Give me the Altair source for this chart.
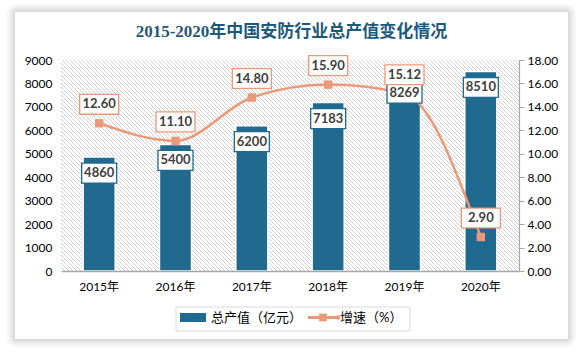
import altair as alt
import pandas as pd

years = ["2015年", "2016年", "2017年", "2018年", "2019年", "2020年"]
output_value = [4860, 5400, 6200, 7183, 8269, 8510]
growth = [12.60, 11.10, 14.80, 15.90, 15.12, 2.90]
output_labels = ["4860", "5400", "6200", "7183", "8269", "8510"]
growth_labels = ["12.60", "11.10", "14.80", "15.90", "15.12", "2.90"]

title_text = "2015-2020年中国安防行业总产值变化情况"
legend_bar = "总产值（亿元）"
legend_line = "增速（%）"

df = pd.DataFrame({
    "year": years,
    "value": output_value,
    "growth": growth,
    "vlabel": output_labels,
    "glabel": growth_labels,
})

W, H = 458, 211
BAR = "#1f6a8e"
LINE = "#ea9a78"
TXT = "#404040"
FONT = "Lato, Noto Sans CJK SC"

x_enc = alt.X("year:N", sort=years, title=None,
              scale=alt.Scale(paddingInner=0.58, paddingOuter=0.29),
              axis=alt.Axis(labelAngle=0, ticks=False, domainColor="#a6a6a6",
                            domainWidth=1.5, labelFontSize=12, labelColor="#000000",
                            labelFont=FONT, labelPadding=10, zindex=2))
x_plain = alt.X("year:N", sort=years)

yl_scale = alt.Scale(domain=[0, 9000], nice=False)
yr_scale = alt.Scale(domain=[0, 18], nice=False)

base = alt.Chart(df)
one = alt.Chart(pd.DataFrame({"k": [0]}))

# decorative diagonal hatch of the plot background (pixel space)
hatch_start = list(range(-H, W + 1, 4))
hatch_df = pd.DataFrame({
    "hx1": hatch_start,
    "hx2": [s + H for s in hatch_start],
    "hy1": [0] * len(hatch_start),
    "hy2": [H] * len(hatch_start),
})
hatch = alt.Chart(hatch_df).mark_rule(clip=True, color="#d2d2d2", strokeWidth=1).encode(
    x=alt.X("hx1:Q", scale=None, axis=None), x2="hx2:Q",
    y=alt.Y("hy1:Q", scale=None, axis=None), y2="hy2:Q")

# card shadow + card
CX0, CX1, CY0, CY1 = -46, 507, -48, 279
shadows = [
    one.mark_rect(fill=None, stroke="#000000", strokeWidth=sw, strokeOpacity=0.035, cornerRadius=2)
    .encode(x=alt.value(CX0), x2=alt.value(CX1), y=alt.value(CY0), y2=alt.value(CY1))
    for sw in [16, 11, 7, 4]
]
card = one.mark_rect(fill="#ffffff").encode(
    x=alt.value(CX0), x2=alt.value(CX1), y=alt.value(CY0), y2=alt.value(CY1))

bars = base.mark_bar(color=BAR, stroke="#ffffff", strokeWidth=1.5).encode(
    x=x_enc,
    y=alt.Y("value:Q", scale=yl_scale, title=None,
            axis=alt.Axis(orient="left", values=list(range(0, 9001, 1000)), format="d",
                          grid=False, ticks=False, domain=False, labelFontSize=12,
                          labelColor="#000000", labelFont=FONT, labelPadding=9, zindex=2)),
)
box_path = "M-1,-0.57 H1 V0.57 H-1 Z"
bar_boxes = base.mark_point(shape=box_path, filled=True, fill="#ffffff", stroke=BAR,
                            strokeWidth=1.3, opacity=1, size=35 * 35, yOffset=16).encode(
    x=x_plain, y=alt.Y("value:Q", scale=yl_scale, axis=None))
bar_text = base.mark_text(font=FONT, fontSize=13, fontWeight="bold", color=TXT,
                          yOffset=16, baseline="middle").encode(
    x=x_plain, y=alt.Y("value:Q", scale=yl_scale, axis=None),
    text="vlabel:N")

line = base.mark_line(color=LINE, strokeWidth=2.5, interpolate="monotone").encode(
    x=x_plain,
    y=alt.Y("growth:Q", scale=yr_scale, title=None,
            axis=alt.Axis(orient="right", values=list(range(0, 19, 2)), format=".2f",
                          grid=False, ticks=True, tickSize=5, tickColor="#a6a6a6",
                          domainColor="#a6a6a6", domainWidth=1.2, labelFontSize=12,
                          labelColor="#000000", labelFont=FONT, labelPadding=3, zindex=2)),
)
pts = base.mark_point(shape="square", filled=True, color=LINE, size=70, opacity=1).encode(
    x=x_plain, y=alt.Y("growth:Q", scale=yr_scale, axis=None))
gbox_path = "M-1,-0.51 H1 V0.51 H-1 Z"
g_boxes = base.mark_point(shape=gbox_path, filled=True, fill="#ffffff", stroke=LINE,
                          strokeWidth=1.3, opacity=1, size=39 * 39, yOffset=-19).encode(
    x=x_plain, y=alt.Y("growth:Q", scale=yr_scale, axis=None))
g_text = base.mark_text(font=FONT, fontSize=13, fontWeight="bold", color=TXT,
                        yOffset=-19, baseline="middle").encode(
    x=x_plain, y=alt.Y("growth:Q", scale=yr_scale, axis=None),
    text="glabel:N")

title = one.mark_text(text=title_text, font="Liberation Serif, Noto Sans CJK SC",
                      fontSize=17, fontWeight="bold", color="#1d5a7a",
                      align="center", baseline="middle").encode(
    x=alt.value(230.5), y=alt.value(-28))

# legend
leg_box = one.mark_rect(fill="#ffffff", stroke="#d9d9d9", strokeWidth=1).encode(
    x=alt.value(115), x2=alt.value(349), y=alt.value(247), y2=alt.value(271))
leg_rect = one.mark_rect(color=BAR).encode(
    x=alt.value(119), x2=alt.value(145), y=alt.value(253), y2=alt.value(262))
leg_t1 = one.mark_text(text=legend_bar, font=FONT, fontSize=13, color="#000000",
                       align="left", baseline="middle").encode(
    x=alt.value(150), y=alt.value(257.5))
leg_rule = one.mark_rule(color=LINE, strokeWidth=3).encode(
    x=alt.value(247), x2=alt.value(277), y=alt.value(257.5))
leg_sq = one.mark_point(shape="square", filled=True, color=LINE, size=60, opacity=1).encode(
    x=alt.value(262), y=alt.value(257.5))
leg_dm = one.mark_point(shape="diamond", filled=True, color=LINE, size=30, opacity=1).encode(
    x=alt.value(277), y=alt.value(257.5))
leg_t2 = one.mark_text(text=legend_line, font=FONT, fontSize=13, color="#000000",
                       align="left", baseline="middle").encode(
    x=alt.value(279), y=alt.value(257.5))

chart = alt.layer(
    *shadows, card, hatch, bars, line, pts, bar_boxes, bar_text, g_boxes, g_text, title,
    leg_box, leg_rect, leg_t1, leg_rule, leg_sq, leg_dm, leg_t2,
).resolve_scale(y="independent").properties(
    width=W, height=H,
    autosize=alt.AutoSizeParams(type="none"),
    padding={"left": 61, "top": 60, "right": 583 - 61 - W, "bottom": 352 - 60 - H},
    background="#ffffff",
).configure_view(stroke=None)

chart.save("out.html", embed_options={"renderer": "svg", "actions": False})
